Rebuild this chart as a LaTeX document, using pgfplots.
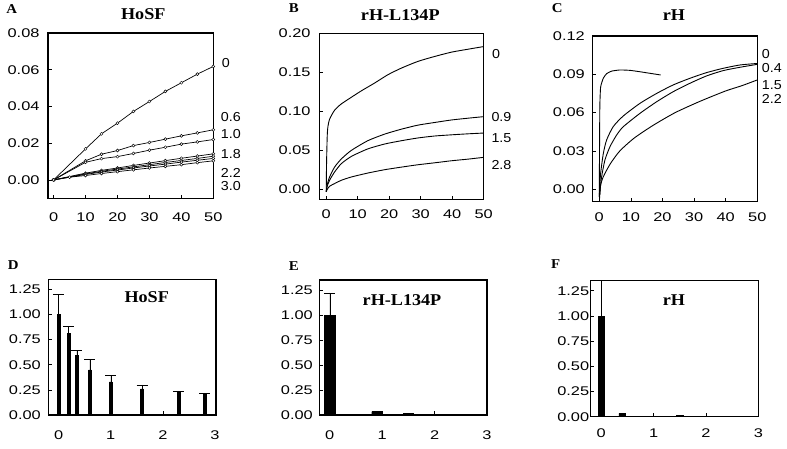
\documentclass[border=0pt]{standalone}
\usepackage{pgfplots}
\pgfplotsset{compat=1.18}
\usepackage{fontspec}
\setmainfont{Liberation Sans}
\newfontfamily\tickfam{Liberation Sans}[FakeStretch=1.3]
\newfontfamily\lblfam{Liberation Sans}[FakeStretch=1.1]
\newfontfamily\ttlfam{Liberation Serif}[FakeStretch=1.1]
\newcommand\tf{\tickfam\fontsize{12.6bp}{15bp}\selectfont}
\newcommand\lf{\lblfam\fontsize{13bp}{15bp}\selectfont}
\newcommand\ttl{\ttlfam\bfseries\fontsize{16.5bp}{18bp}\selectfont}
\newcommand\pl{\ttlfam\bfseries\fontsize{13.5bp}{15bp}\selectfont}
\pgfplotsset{
  panel/.style={
    scale only axis, anchor=south west,
    axis line style={line width=1.1bp},
    tick style={black, line width=0.6bp},
    tick align=inside, major tick length=3.5bp,
    xtick pos=left, ytick pos=left,
    ticklabel style={font=\tf},
    /pgf/number format/assume math mode=true,
    scaled y ticks=false, scaled x ticks=false,
    yticklabel style={/pgf/number format/fixed, /pgf/number format/fixed zerofill, /pgf/number format/precision=2},
  },
  crv/.style={black, line width=0.9bp},
  mk/.style={black, line width=0.7bp, mark=*, mark size=1.5bp, mark options={fill=white, draw=black, line width=0.45bp}},
}
\begin{document}
\begin{tikzpicture}[x=1bp,y=1bp]
\path[use as bounding box] (0,0) rectangle (787,449);

% ---------- A ----------
\begin{axis}[panel, at={(48bp,250.7bp)}, width=165.3bp, height=165.3bp,
  xmin=-1.75, xmax=50, ymin=-0.01, ymax=0.08,
  xtick={0,10,20,30,40,50}, ytick={0,0.02,0.04,0.06,0.08},
  xticklabel style={yshift=-10.5bp}, yticklabel style={xshift=-5bp}]
\addplot[mk] coordinates {(0,0) (10,0.0169) (15,0.0251) (20,0.0309) (25,0.0373) (30,0.0427) (35,0.0482) (40,0.0529) (45,0.0576) (50,0.0618)};
\addplot[mk] coordinates {(0,0) (10,0.0104) (15,0.0140) (20,0.0160) (25,0.0187) (30,0.0204) (35,0.0222) (40,0.0240) (45,0.0256) (50,0.0273)};
\addplot[mk] coordinates {(0,0) (10,0.0096) (15,0.0116) (20,0.0127) (25,0.0144) (30,0.0162) (35,0.0178) (40,0.0195) (45,0.0207) (50,0.0220)};
\addplot[mk] coordinates {(0,0) (10,0.0037) (15,0.0052) (20,0.0065) (25,0.0079) (30,0.0092) (35,0.0105) (40,0.0118) (45,0.0130) (50,0.0142)};
\addplot[mk] coordinates {(0,0) (10,0.0033) (15,0.0047) (20,0.0059) (25,0.0071) (30,0.0083) (35,0.0095) (40,0.0106) (45,0.0117) (50,0.0129)};
\addplot[mk] coordinates {(0,0) (10,0.0030) (15,0.0043) (20,0.0054) (25,0.0065) (30,0.0076) (35,0.0086) (40,0.0097) (45,0.0107) (50,0.0117)};
\addplot[mk] coordinates {(0,0) (5,0.0015) (10,0.0024) (15,0.0035) (20,0.0045) (25,0.0055) (30,0.0065) (35,0.0074) (40,0.0083) (45,0.0094) (50,0.0104)};
\end{axis}

% ---------- B ----------
\begin{axis}[panel, at={(319.3bp,249.7bp)}, width=164.4bp, height=166bp,
  xmin=-2.2, xmax=50, ymin=-0.0125, ymax=0.2,
  xtick={0,10,20,30,40,50}, ytick={0,0.05,0.10,0.15,0.20},
  xticklabel style={yshift=-6.5bp}, yticklabel style={xshift=-5.2bp}]
\addplot[crv, smooth, tension=0.4] coordinates {(0,-0.003) (0.1,0.033) (0.3,0.0667) (0.5,0.0794) (1.06,0.090) (2.65,0.1015) (4.76,0.1095) (7.94,0.1180) (11.1,0.1262) (15.4,0.1364) (19.6,0.147) (23.9,0.1555) (29.1,0.164) (34.4,0.1703) (39.7,0.1758) (45,0.1796) (50,0.1830)};
\addplot[crv, smooth, tension=0.4] coordinates {(0,-0.003) (0.3,0.006) (1.06,0.016) (2.65,0.0287) (4.76,0.039) (7.94,0.050) (13.2,0.0625) (18.6,0.071) (23.9,0.0773) (29.1,0.0824) (34.4,0.0858) (39.7,0.089) (45,0.0913) (50,0.0933)};
\addplot[crv, smooth, tension=0.4] coordinates {(0,-0.003) (0.3,0.004) (1.06,0.0118) (2.65,0.0224) (4.76,0.033) (7.94,0.0423) (13.2,0.052) (18.6,0.0583) (23.9,0.0625) (29.1,0.066) (34.4,0.0685) (39.7,0.070) (45,0.0713) (50,0.0723)};
\addplot[crv, smooth, tension=0.4] coordinates {(0,-0.003) (0.3,0.0) (1.06,0.0042) (2.65,0.0076) (4.76,0.0118) (7.94,0.016) (13.2,0.0211) (18.6,0.0254) (23.9,0.0287) (29.1,0.0317) (34.4,0.0342) (39.7,0.0368) (45,0.0389) (50,0.0412)};
\end{axis}

% ---------- C ----------
\begin{axis}[panel, at={(592.3bp,247.3bp)}, width=165bp, height=165.7bp,
  xmin=-2.2, xmax=50, ymin=-0.0097, ymax=0.12,
  xtick={0,10,20,30,40,50}, ytick={0,0.03,0.06,0.09,0.12},
  xticklabel style={yshift=-7.5bp}, yticklabel style={xshift=-4bp}]
\addplot[crv, smooth, tension=0.3] coordinates {(0,-0.006) (0.08,0.03) (0.18,0.065) (0.43,0.080) (1.28,0.087) (2.33,0.0905) (3.9,0.0925) (6.55,0.0934) (9.7,0.0931) (12.9,0.092) (16.0,0.0908) (19.4,0.0895)};
\addplot[crv, smooth, tension=0.4] coordinates {(0,-0.006) (0.15,0.002) (0.43,0.0125) (1.28,0.028) (2.33,0.0386) (4.4,0.049) (7.6,0.0574) (12.9,0.0673) (18.2,0.0751) (23.4,0.0817) (28.7,0.0869) (33.9,0.0913) (39.2,0.0947) (44.5,0.0973) (50,0.0985)};
\addplot[crv, smooth, tension=0.4] coordinates {(0.1,-0.007) (0.3,0.0) (0.75,0.0099) (1.8,0.023) (3.4,0.0334) (5.5,0.0425) (7.6,0.049) (12.9,0.0595) (18.2,0.0686) (23.4,0.0764) (28.7,0.083) (33.9,0.0887) (39.2,0.0929) (44.5,0.0955) (50,0.0978)};
\addplot[crv, smooth, tension=0.4] coordinates {(0.2,-0.004) (0.4,0.003) (1.3,0.010) (3.5,0.020) (6.5,0.030) (11,0.040) (17,0.050) (24,0.060) (32,0.069) (40,0.077) (45,0.081) (50,0.0856)};
\end{axis}

% ---------- D ----------
\begin{axis}[panel, at={(48.3bp,34bp)}, width=167.7bp, height=135.7bp,
  xmin=-0.2, xmax=3.02, ymin=0, ymax=1.35,
  xtick={0,1,2,3}, ytick={0,0.25,0.5,0.75,1.0,1.25},
  xticklabel style={yshift=-12.5bp}, yticklabel style={xshift=-4bp}]
\addplot[ybar, bar width=2.8bp, bar shift=0pt, fill=black, draw=black,
  error bars/.cd, y dir=plus, y explicit,
  error bar style={line width=0.5bp},
  error mark options={rotate=90, mark size=5.5bp, line width=0.6bp}]
  table[x=x, y=y, y error=e] {
x y e
0 1.00 0.20
0.19 0.81 0.07
0.35 0.59 0.05
0.60 0.45 0.10
1.0 0.33 0.06
1.6 0.26 0.04
2.3 0.235 0.005
2.8 0.215 0.005
};
\end{axis}

% ---------- E ----------
\begin{axis}[panel, at={(319.3bp,34bp)}, width=167.7bp, height=135bp,
  xmin=-0.2, xmax=3.0, ymin=0, ymax=1.35,
  xtick={0,1,2,3}, ytick={0,0.25,0.5,0.75,1.0,1.25},
  xticklabel style={yshift=-12.5bp}, yticklabel style={xshift=-3bp}]
\addplot[ybar, bar width=10.5bp, bar shift=0pt, fill=black, draw=black,
  error bars/.cd, y dir=plus, y explicit,
  error bar style={line width=0.5bp},
  error mark options={rotate=90, mark size=5.5bp, line width=0.6bp}]
  table[x=x, y=y, y error=e] {
x y e
0 1.00 0.22
};
\addplot[ybar, bar width=10.5bp, bar shift=0pt, fill=black, draw=black] coordinates {(0.9,0.033) (1.5,0.015) (2.8,0.004)};
\end{axis}

% ---------- F ----------
\begin{axis}[panel, at={(590.7bp,32.3bp)}, width=167.6bp, height=136bp,
  xmin=-0.2, xmax=3.0, ymin=0, ymax=1.35,
  xtick={0,1,2,3}, ytick={0,0.25,0.5,0.75,1.0,1.25},
  xticklabel style={yshift=-8.5bp}, yticklabel style={xshift=2bp}]
\addplot[ybar, bar width=6.5bp, bar shift=0pt, fill=black, draw=black,
  error bars/.cd, y dir=plus, y explicit,
  error bar style={line width=0.5bp},
  error mark options={rotate=90, mark size=5.5bp, line width=0.6bp}]
  table[x=x, y=y, y error=e] {
x y e
0 1.00 0.6
};
\addplot[ybar, bar width=6.5bp, bar shift=0pt, fill=black, draw=black] coordinates {(0.4,0.033) (1.5,0.015) (2.2,0.003)};
\end{axis}

% ---------- titles ----------
\node[font=\pl] at (11.7bp,439.7bp) {A};
\node[font=\ttl] at (143.3bp,435bp) {HoSF};
\node[font=\pl] at (293.7bp,440.7bp) {B};
\node[font=\ttl] at (400.3bp,434bp) {rH-L134P};
\node[font=\pl] at (557.3bp,440.7bp) {C};
\node[font=\ttl] at (674bp,434bp) {rH};
\node[font=\pl] at (13.3bp,184bp) {D};
\node[font=\pl] at (293.7bp,183bp) {E};
\node[font=\pl] at (555.7bp,185bp) {F};
\node[font=\ttl] at (146.7bp,152.3bp) {HoSF};
\node[font=\ttl] at (402bp,149bp) {rH-L134P};
\node[font=\ttl] at (674bp,149bp) {rH};

% ---------- curve labels ----------
\begin{scope}[every node/.style={font=\lf, anchor=west, inner sep=0pt}]
\node at (221.7bp,385.7bp) {0};
\node at (220.7bp,332.3bp) {0.6};
\node at (220.7bp,315bp) {1.0};
\node at (220.7bp,295bp) {1.8};
\node at (220.7bp,276.3bp) {2.2};
\node at (220.7bp,263.3bp) {3.0};
\node at (492bp,394.7bp) {0};
\node at (491.3bp,332.3bp) {0.9};
\node at (491.3bp,310.7bp) {1.5};
\node at (491.3bp,284bp) {2.8};
\node at (761.7bp,394.7bp) {0};
\node at (761.7bp,381.3bp) {0.4};
\node at (761.7bp,364bp) {1.5};
\node at (761.7bp,350bp) {2.2};
\end{scope}
\end{tikzpicture}
\end{document}
